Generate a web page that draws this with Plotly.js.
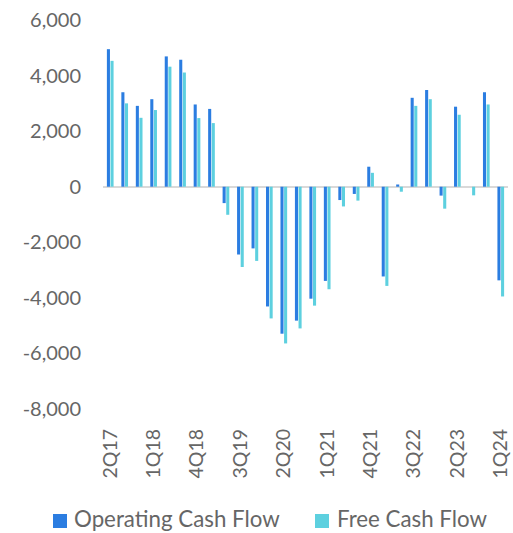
<!DOCTYPE html>
<html>
<head>
<meta charset="utf-8">
<script src="https://cdn.plot.ly/plotly-3.0.1.min.js"></script>
<style>html,body{margin:0;padding:0;background:#fff;}#chart{width:513px;height:533px;}</style>
</head>
<body>
<div id="chart"></div>
<script>
const quarters = ["2Q17","3Q17","4Q17","1Q18","2Q18","3Q18","4Q18","1Q19","2Q19","3Q19","4Q19","1Q20","2Q20","3Q20","4Q20","1Q21","2Q21","3Q21","4Q21","1Q22","2Q22","3Q22","4Q22","1Q23","2Q23","3Q23","4Q23","1Q24"];
const operatingCashFlow = [4950,3400,2910,3150,4690,4570,2960,2800,-590,-2440,-2220,-4310,-5290,-4820,-4030,-3390,-480,-260,720,-3230,80,3200,3480,-320,2880,0,3400,-3370];
const freeCashFlow = [4530,3000,2480,2760,4320,4110,2470,2290,-1010,-2890,-2670,-4740,-5640,-5100,-4280,-3690,-710,-500,500,-3570,-180,2910,3150,-790,2590,-310,2960,-3950];
const tickLabels = ["2Q17","1Q18","4Q18","3Q19","2Q20","1Q21","4Q21","3Q22","2Q23","1Q24"];
const yTicks = [-8000,-6000,-4000,-2000,0,2000,4000,6000];
const seriesNames = ["Operating Cash Flow","Free Cash Flow"];
const seriesColors = ["#2B7DE1","#5DD0DF"];

const fontFam = "Lato, 'Open Sans', sans-serif";
const txtColor = '#666666';
const data = [
  {type:'bar', name:seriesNames[0], x:quarters, y:operatingCashFlow, marker:{color:seriesColors[0]}, showlegend:false},
  {type:'bar', name:seriesNames[1], x:quarters, y:freeCashFlow, marker:{color:seriesColors[1]}, showlegend:false}
];

// custom legend (real text) placed in paper coordinates
const plotL = 103, plotW = 405, plotB = 409, plotH = 389;
const px2x = p => (p - plotL) / plotW;
const px2y = p => (plotB - p) / plotH;
const legendItems = [
  {sq:53, txt:71.5},
  {sq:315, txt:334.5}
];
const shapes = legendItems.map((it, i) => ({
  type:'rect', xref:'paper', yref:'paper',
  x0:px2x(it.sq), x1:px2x(it.sq+14), y0:px2y(528), y1:px2y(514),
  fillcolor:seriesColors[i], line:{width:0}
}));
const annotations = legendItems.map((it, i) => ({
  xref:'paper', yref:'paper', x:px2x(it.txt), y:px2y(518.5), xanchor:'left', yanchor:'middle',
  text:seriesNames[i], showarrow:false, font:{family:fontFam, size:22.3, color:txtColor}
}));

const layout = {
  width:513, height:533,
  margin:{l:103, r:5, t:20, b:124, autoexpand:false},
  paper_bgcolor:'#fff', plot_bgcolor:'#fff',
  barmode:'group', bargap:0.5, bargroupgap:0.15,
  font:{family:fontFam, color:txtColor, size:20},
  showlegend:false,
  shapes:shapes, annotations:annotations,
  xaxis:{type:'category', tickvals:tickLabels, ticktext:tickLabels, tickangle:-90, showgrid:false, showline:false, ticks:'', ticklabelstandoff:15, tickfont:{size:19.5, color:txtColor}, automargin:false},
  yaxis:{range:[-8000,6000], tickvals:yTicks, ticktext:yTicks.map(v=>v.toLocaleString('en-US')), showgrid:false, showline:false, zeroline:true, zerolinecolor:'#d9d9d9', zerolinewidth:2, ticks:'', ticklabelstandoff:21, tickfont:{size:20, color:txtColor}, automargin:false}
};
Plotly.newPlot('chart', data, layout, {displayModeBar:false, staticPlot:true});
</script>
</body>
</html>
